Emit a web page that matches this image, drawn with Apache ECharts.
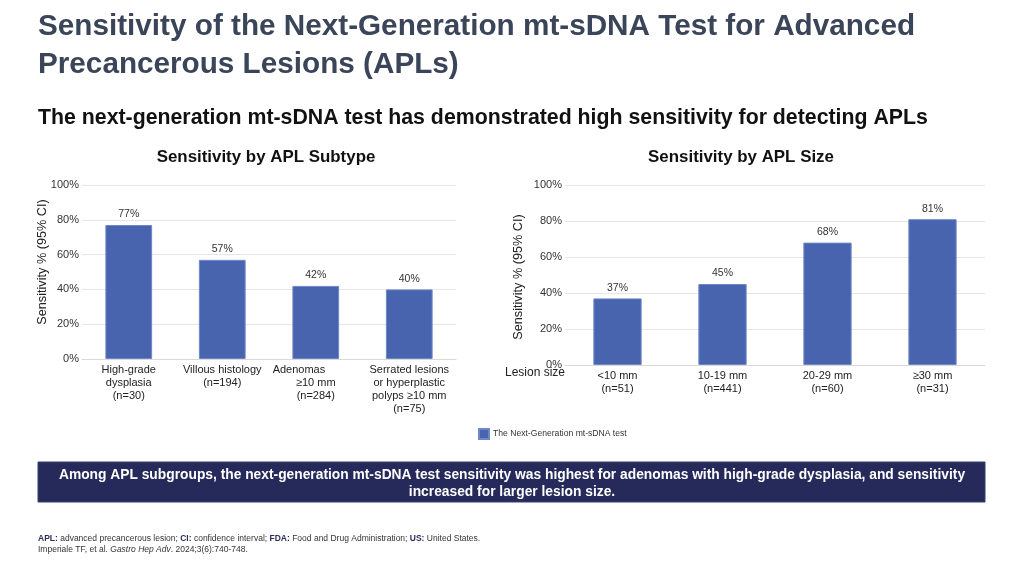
<!DOCTYPE html>
<html><head><meta charset="utf-8">
<script src="https://cdn.jsdelivr.net/npm/echarts@6/dist/echarts.min.js"></script>
<style>html,body{margin:0;padding:0;background:#fff}#c{width:1024px;height:575px}</style>
</head><body><div id="c"></div>
<script>
var subtypeCats = ['High-grade\ndysplasia\n(n=30)', 'Villous histology\n(n=194)', 'Adenomas           \n≥10 mm\n(n=284)', 'Serrated lesions\nor hyperplastic\npolyps ≥10 mm\n(n=75)'];
var subtypeVals = [77, 57, 42, 40];
var sizeCats = ['<10 mm\n(n=51)', '10-19 mm\n(n=441)', '20-29 mm\n(n=60)', '≥30 mm\n(n=31)'];
var sizeVals = [37, 45, 68, 81];
var yTicks = [0, 20, 40, 60, 80, 100];
var seriesName = 'The Next-Generation mt-sDNA test';

var FONT = '"Liberation Sans", Arial, sans-serif';
var BAR = '#4864AE';
var chart = echarts.init(document.getElementById('c'), null, {renderer: 'canvas'});

function yAxisCfg(gi) {
  return {
    gridIndex: gi, type: 'value', min: yTicks[0], max: yTicks[yTicks.length - 1], interval: yTicks[1] - yTicks[0],
    axisLabel: {formatter: '{value}%', fontFamily: FONT, fontSize: 11, color: '#333', margin: 3},
    axisLine: {show: false}, axisTick: {show: false},
    splitLine: {lineStyle: {color: '#e6e6e6', width: 1}}
  };
}
function xAxisCfg(gi, cats) {
  return {
    gridIndex: gi, type: 'category', data: cats,
    axisLine: {lineStyle: {color: '#d9d9d9'}}, axisTick: {show: false},
    axisLabel: {interval: 0, fontFamily: FONT, fontSize: 11, color: '#222', lineHeight: 13, margin: 4}
  };
}
function barSeries(xi, vals, w) {
  return {
    name: seriesName, type: 'bar', xAxisIndex: xi, yAxisIndex: xi, data: vals, barWidth: w,
    itemStyle: {color: BAR, borderColor: '#7088c8', borderWidth: 1},
    label: {show: true, position: 'top', formatter: '{c}%', fontFamily: FONT, fontSize: 10.5, color: '#333', distance: 5}
  };
}

chart.setOption({
  animation: false,
  textStyle: {fontFamily: FONT},
  grid: [
    {left: 82, right: 568, top: 185, bottom: 216},
    {left: 565, right: 39, top: 185, bottom: 210}
  ],
  xAxis: [xAxisCfg(0, subtypeCats), xAxisCfg(1, sizeCats)],
  yAxis: [yAxisCfg(0), yAxisCfg(1)],
  legend: {
    data: [seriesName], left: 478, top: 428, padding: 0, itemWidth: 10, itemHeight: 10, itemGap: 5,
    icon: 'rect', textStyle: {fontFamily: FONT, fontSize: 8.6, color: '#333', padding: [0, 0, 0, -1]}
  },
  series: [barSeries(0, subtypeVals, '50%'), barSeries(1, sizeVals, '46%')],
  graphic: [
    {type: 'text', left: 38, top: 8, style: {text: 'Sensitivity of the Next-Generation mt-sDNA Test for Advanced\nPrecancerous Lesions (APLs)', font: 'bold 29.7px ' + FONT, fill: '#3b4559', lineHeight: 38}},
    {type: 'text', left: 38, top: 108, style: {text: 'The next-generation mt-sDNA test has demonstrated high sensitivity for detecting APLs', font: 'bold 21.3px ' + FONT, fill: '#111'}},
    {type: 'text', x: 266, y: 157, style: {text: 'Sensitivity by APL Subtype', font: 'bold 16.9px ' + FONT, fill: '#111', align: 'center', verticalAlign: 'middle'}},
    {type: 'text', x: 741, y: 157, style: {text: 'Sensitivity by APL Size', font: 'bold 16.9px ' + FONT, fill: '#111', align: 'center', verticalAlign: 'middle'}},
    {type: 'text', x: 42, y: 262, rotation: Math.PI / 2, style: {text: 'Sensitivity % (95% CI)', font: '12.7px ' + FONT, fill: '#222', align: 'center', verticalAlign: 'middle'}},
    {type: 'text', x: 518, y: 277, rotation: Math.PI / 2, style: {text: 'Sensitivity % (95% CI)', font: '12.7px ' + FONT, fill: '#222', align: 'center', verticalAlign: 'middle'}},
    {type: 'text', x: 505, y: 373, style: {text: 'Lesion size', font: '12px ' + FONT, fill: '#222', align: 'left', verticalAlign: 'middle'}},
    {type: 'rect', shape: {x: 38, y: 462, width: 947, height: 40}, style: {fill: '#262a5b', stroke: '#3a3f70', lineWidth: 1}},
    {type: 'text', x: 512, y: 484, style: {text: 'Among APL subgroups, the next-generation mt-sDNA test sensitivity was highest for adenomas with high-grade dysplasia, and sensitivity\nincreased for larger lesion size.', font: 'bold 13.8px ' + FONT, fill: '#fff', align: 'center', verticalAlign: 'middle', lineHeight: 17}},
    {type: 'text', left: 38, top: 533, style: {
      text: '{b|APL:} advanced precancerous lesion; {b|CI:} confidence interval; {b|FDA:} Food and Drug Administration; {b|US:} United States.\nImperiale TF, et al. {i|Gastro Hep Adv}. 2024;3(6):740-748.',
      font: '8.5px ' + FONT, fill: '#333', lineHeight: 11,
      rich: {b: {fontWeight: 'bold', fontSize: 8.5, fill: '#2a2f55'}, i: {fontStyle: 'italic', fontSize: 8.5, fill: '#333'}}
    }}
  ]
});
</script></body></html>
